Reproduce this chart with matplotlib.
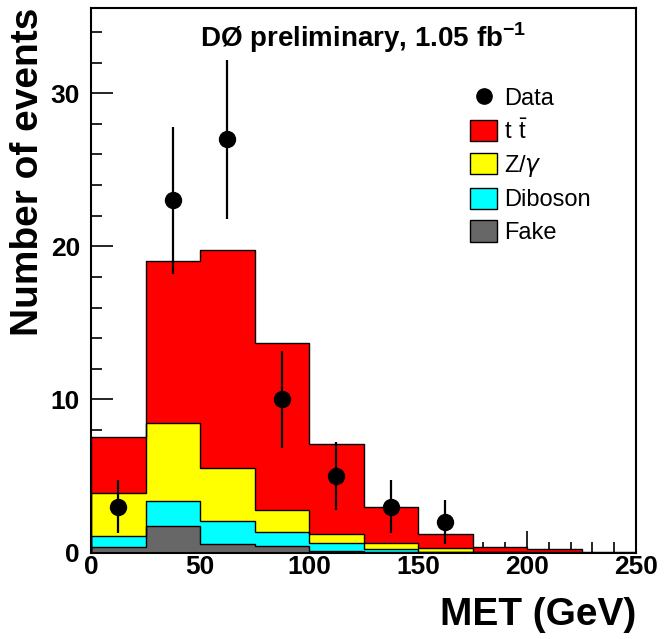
import numpy as np
import matplotlib
matplotlib.use("Agg")
import matplotlib.pyplot as plt
from matplotlib.patches import Patch
from matplotlib.lines import Line2D
from matplotlib.ticker import MultipleLocator

plt.rcParams['font.family'] = ['Liberation Sans', 'DejaVu Sans']
plt.rcParams['mathtext.fontset'] = 'custom'
plt.rcParams['mathtext.rm'] = 'Liberation Sans'
plt.rcParams['mathtext.bf'] = 'Liberation Sans:bold'

# --- DONNÉES ---
bin_edges = np.arange(0, 275, 25)          # MET (GeV), bins de 25
bkg_fake = [0.35, 1.73, 0.54, 0.42, 0.10, 0.05, 0.02, 0.0, 0.0, 0.0]
bkg_diboson = [0.72, 1.64, 1.54, 0.90, 0.50, 0.15, 0.03, 0.02, 0.0, 0.0]
bkg_zgamma = [2.81, 5.11, 3.46, 1.46, 0.61, 0.40, 0.22, 0.03, 0.02, 0.0]
bkg_ttbar = [3.67, 10.57, 14.23, 10.92, 5.86, 2.35, 0.92, 0.33, 0.19, 0.03]

data_met = [12.5, 37.5, 62.5, 87.5, 112.5, 137.5, 162.5]
data_n = [3, 23, 27, 10, 5, 3, 2]

# empilement (du bas vers le haut)
components = [
    (bkg_fake, '#676767', 'Fake'),
    (bkg_diboson, '#00ffff', 'Diboson'),
    (bkg_zgamma, '#ffff00', r'Z/$\gamma$'),
    (bkg_ttbar, '#ff0000', r'$\mathregular{t\ \bar{t}}$'),
]
cum = np.cumsum([np.array(c[0]) for c in components], axis=0)

fig = plt.figure(figsize=(6.64, 6.39), dpi=100)
ax = fig.add_axes([91 / 664, 1 - 552.5 / 639, 545 / 664, 545 / 639])

# on dessine du plus haut au plus bas pour que chaque couche recouvre la précédente
for i in range(len(components) - 1, -1, -1):
    ax.stairs(cum[i], bin_edges, fill=True, color=components[i][1], linewidth=0, zorder=2)
    ax.stairs(cum[i], bin_edges, color='black', linewidth=1.0, zorder=3)

# Données avec erreurs poissoniennes
ax.errorbar(data_met, data_n, yerr=np.sqrt(data_n), fmt='o', color='black',
            markersize=11.5, elinewidth=1.6, capsize=0, zorder=5)

ax.set_xlim(0, 250)
ax.set_ylim(0, 35.6)
ax.xaxis.set_major_locator(MultipleLocator(50))
ax.xaxis.set_minor_locator(MultipleLocator(10))
ax.yaxis.set_major_locator(MultipleLocator(10))
ax.yaxis.set_minor_locator(MultipleLocator(2))
ax.tick_params(which='both', direction='in', top=False, right=False, width=1.2,
               labelsize=19)
ax.tick_params(which='major', length=16)
ax.tick_params(which='minor', length=8)
ax.tick_params(axis='x', pad=2)
ax.tick_params(axis='y', pad=8)
for lab in ax.get_xticklabels() + ax.get_yticklabels():
    lab.set_fontweight('bold')
for sp in ax.spines.values():
    sp.set_linewidth(1.5)
    sp.set_zorder(6)

ax.set_xlabel("MET (GeV)", fontsize=28, fontweight='bold', loc='right', labelpad=13)
ax.set_ylabel("Number of events", fontsize=28, fontweight='bold', loc='top', labelpad=3)

ax.text(0.5, 0.945, r"DØ preliminary, 1.05 fb$^{\mathbf{-1}}$", transform=ax.transAxes,
        ha='center', va='center', fontsize=20, fontweight='bold')

handles = [Line2D([], [], marker='o', color='black', linestyle='none', markersize=11)]
labels = ['Data']
for vals, col, name in components[::-1]:
    handles.append(Patch(facecolor=col, edgecolor='black', linewidth=1.0))
    labels.append(name)
ax.legend(handles, labels, loc='upper left', bbox_to_anchor=(0.665, 0.885), frameon=False,
          fontsize=17, handlelength=1.15, handleheight=1.0, labelspacing=0.38,
          handletextpad=0.3, borderpad=0.2)

fig.savefig("out.png", dpi=100)
